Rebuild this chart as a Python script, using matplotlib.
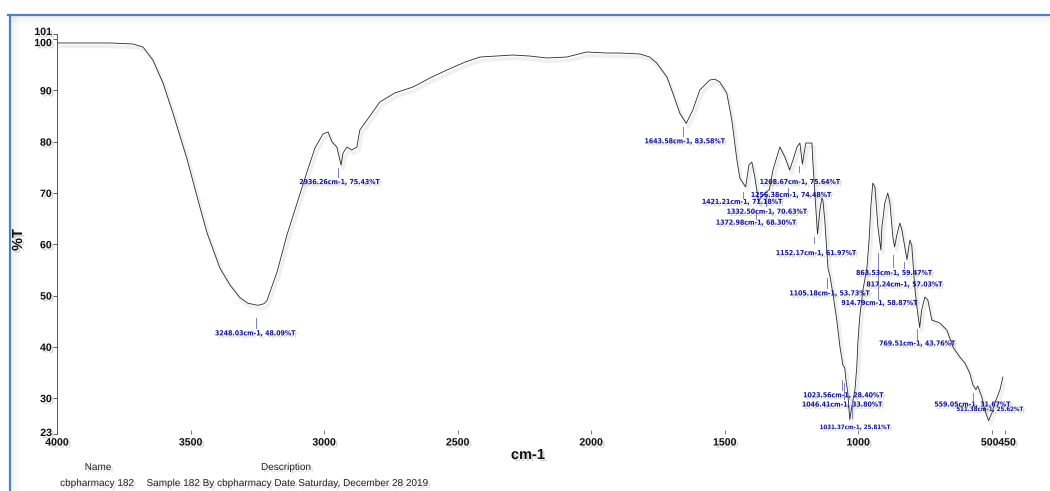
import matplotlib
matplotlib.use("Agg")
import matplotlib.pyplot as plt
import matplotlib.patheffects as pe
import matplotlib.transforms as mtransforms
from matplotlib import font_manager
from matplotlib.lines import Line2D

# ---------------------------------------------------------------------------
# FTIR spectrum of sample 182: wavenumber (cm-1) vs. transmittance (%T)
# ---------------------------------------------------------------------------
wavenumber = [
    4000, 3925, 3802, 3715, 3678, 3641, 3603, 3566, 3513, 3465, 3438, 3390,
    3352, 3315, 3285, 3248.03, 3225, 3214, 3176, 3139, 3101, 3064, 3034, 3004,
    2985, 2970, 2952, 2936.26, 2929, 2914, 2896, 2877, 2866, 2839, 2791, 2735,
    2667, 2604, 2540, 2473, 2416, 2293, 2229, 2165, 2091, 2016, 1941, 1892,
    1817, 1780, 1754, 1716, 1694, 1668, 1643.58, 1619, 1593, 1555, 1537, 1518,
    1492, 1473, 1454, 1443, 1421.21, 1409, 1398, 1387, 1372.98, 1360, 1345,
    1332.50, 1319, 1293, 1274, 1256.38, 1244, 1229, 1218, 1208.67, 1196, 1181,
    1173, 1170, 1162, 1152.17, 1143, 1136, 1132, 1125, 1117, 1113, 1105.18,
    1095, 1080, 1068, 1057, 1050, 1046.41, 1039, 1031.37, 1023.56, 1012, 1005,
    1001, 994, 982, 967, 959, 952, 945, 937, 926, 914.79, 911, 900, 889, 881,
    870, 863.53, 855, 844, 836, 817.24, 806, 799, 788, 780, 769.51, 762, 750,
    739, 724, 694, 668, 645, 619, 600, 582, 570, 559.05, 552, 537, 526, 511.38,
    499, 488, 469, 458,
]
transmittance = [
    99.25, 99.25, 99.25, 99.05, 98.46, 95.93, 91.44, 85.59, 76.60, 67.26,
    62.19, 55.37, 52.05, 49.60, 48.50, 48.09, 48.40, 49.00, 54.59, 61.80,
    68.04, 74.09, 78.77, 81.50, 81.89, 79.94, 78.96, 75.43, 77.79, 78.96,
    78.38, 78.96, 82.28, 84.23, 87.74, 89.50, 90.66, 92.40, 93.98, 95.50,
    96.51, 96.90, 96.70, 96.32, 96.51, 97.49, 97.29, 97.29, 97.10, 96.50,
    95.34, 92.61, 89.49, 85.59, 83.58, 86.18, 90.08, 92.03, 92.20, 91.64,
    89.49, 84.23, 76.43, 72.90, 71.18, 75.45, 76.04, 73.11, 68.30, 69.40,
    70.20, 70.63, 74.48, 78.96, 77.00, 74.48, 76.43, 78.96, 79.74, 75.64,
    79.74, 79.74, 79.74, 76.43, 70.00, 61.97, 66.70, 69.02, 68.63, 64.73,
    58.29, 55.37, 53.73, 50.49, 45.23, 39.96, 36.45, 35.87, 33.80, 31.19,
    25.81, 28.40, 31.58, 36.06, 40.74, 45.81, 51.08, 55.37, 60.83, 67.65,
    71.94, 71.16, 63.36, 58.87, 63.36, 68.04, 70.00, 68.04, 61.41, 59.47,
    61.80, 64.14, 62.78, 57.03, 60.83, 59.70, 51.66, 47.76, 43.76, 47.18,
    49.71, 49.13, 45.23, 44.64, 43.28, 39.96, 38.01, 36.84, 34.89, 32.55,
    31.67, 32.36, 30.21, 27.68, 25.62, 27.09, 29.04, 31.58, 34.11,
]

# Picked peaks (wavenumber, %T)
peak_wn = [3248.03, 2936.26, 1643.58, 1256.38, 1421.21, 1372.98, 1332.50,
           1208.67, 1152.17, 1105.18, 1046.41, 1023.56, 1031.37, 914.79,
           863.53, 817.24, 769.51, 559.05, 511.38]
peak_t = [48.09, 75.43, 83.58, 74.48, 71.18, 68.30, 70.63,
          75.64, 61.97, 53.73, 33.80, 28.40, 25.81, 58.87,
          59.47, 57.03, 43.76, 31.67, 25.62]

x_ticks = [4000, 3500, 3000, 2500, 2000, 1500, 1000, 500, 450]
y_ticks = [23, 30, 40, 50, 60, 70, 80, 90, 100, 101]

# Placement of each peak label relative to its peak, in pixels
# (text dx, text dy downward, tick dx, tick start, tick end, font scale)
label_place = [
    (-2, 28, -2, 13, 23, 1.0),
    (-1, 17, -3, 3, 12, 1.0),
    (-1, 18, -3, 4, 13, 1.0),
    (2, 25, -2, 18, 22, 1.0),
    (-3, 15, -3, 5, 11, 1.0),
    (-2, 21, -3, 10, 17, 1.0),
    (-2, 22, -3, 4, 16, 1.0),
    (-2, 18, -3, 2, 8, 1.0),
    (-1, 19, -3, 3, 9, 1.0),
    (0, 17, -3, 2, 12, 1.0),
    (-3, 26, -2, 4, 20, 1.0),
    (-8, -11, -10, -26, -16, 1.0),
    (5, 8, 2, -18, -2, 0.88),
    (-1, 53, -3, 3, 49, 1.0),
    (0, 26, -2, 8, 20, 1.0),
    (-2, 25, -3, 3, 9, 1.0),
    (-2, 16, -3, 1, 12, 1.0),
    (-3, 15, -3, 3, 10, 1.0),
    (1, -11, 0, 0, 0, 0.88),
]

W, H, DPI = 1050, 491, 100

# Pick a condensed face for the small annotation text when one is installed
fonts = font_manager.fontManager.ttflist
names = {f.name for f in fonts}
BASE = "Liberation Sans"
if "Liberation Sans Narrow" in names:
    COND, STRETCH, LSIZE = "Liberation Sans Narrow", "normal", 5.6
elif any(f.name == "DejaVu Sans" and f.stretch == "condensed" for f in fonts):
    COND, STRETCH, LSIZE = "DejaVu Sans", "condensed", 5.0
else:
    COND, STRETCH, LSIZE = BASE, "normal", 4.8

plt.rcParams["font.family"] = [BASE, "DejaVu Sans"]

fig = plt.figure(figsize=(W / DPI, H / DPI), dpi=DPI)
fig.patch.set_facecolor("white")

left, right = 57 / W, 1005 / W
top, bottom = 1 - 34 / H, 1 - 434 / H
ax = fig.add_axes([left, bottom, right - left, top - bottom])
ax.set_xlim(4000, 450)
ax.set_ylim(23, 101)
ax.patch.set_alpha(0)

text_shadow = [pe.SimplePatchShadow(offset=(1.6, -1.6), shadow_rgbFace="0.55", alpha=0.35),
               pe.Normal()]

# spectrum trace
ax.plot(wavenumber, transmittance, color="#2a2a2a", lw=0.6, zorder=3,
        path_effects=[pe.SimpleLineShadow(offset=(1.5, -2.5), shadow_color="0.6",
                                          alpha=0.14, linewidth=2.5), pe.Normal()])

# axes styling
for s in ("top", "right", "bottom"):
    ax.spines[s].set_visible(False)
ax.spines["left"].set_color("#555555")
ax.spines["left"].set_linewidth(0.7)

ax.set_xticks(x_ticks)
ax.set_xticklabels([str(v) for v in x_ticks])
ax.set_yticks(y_ticks)
ax.set_yticklabels([str(v) for v in y_ticks])
ax.tick_params(axis="x", direction="in", length=3, width=0.6, color="#666666",
               pad=2.5)
ax.tick_params(axis="y", direction="out", length=3, width=0.6, color="#444444",
               pad=0.8)
for lab in ax.get_xticklabels() + ax.get_yticklabels():
    lab.set_fontfamily(BASE)
    lab.set_fontsize(7.6)
    lab.set_fontweight("bold")
    lab.set_color("#111111")
    lab.set_path_effects(text_shadow)

# nudge crowded tick labels apart
nudges = {"101": (0, 3), "100": (0, -3), "23": (0, 2)}
for lab in ax.get_yticklabels():
    if lab.get_text() in nudges:
        lab.set_transform(lab.get_transform()
                          + mtransforms.Affine2D().translate(*nudges[lab.get_text()]))
x_nudges = {"500": (-2, 0), "450": (2, 0)}
for lab in ax.get_xticklabels():
    if lab.get_text() in x_nudges:
        lab.set_transform(lab.get_transform()
                          + mtransforms.Affine2D().translate(*x_nudges[lab.get_text()]))

# peak labels
to_disp = ax.transData
to_data = ax.transData.inverted()
for (wn, t), (dx, dy, tdx, ta, tb, fs) in zip(zip(peak_wn, peak_t), label_place):
    px, py = to_disp.transform((wn, t))
    if tb != ta:
        p0 = to_data.transform((px + tdx, py - ta))
        p1 = to_data.transform((px + tdx, py - tb))
        ax.plot([p0[0], p1[0]], [p0[1], p1[1]], color="#7a7ad8", lw=0.7,
                zorder=4)
    txt = f"{wn:.2f}cm-1, {t:.2f}%T"
    ax.annotate(txt, xy=(wn, t), xytext=(dx, -dy), textcoords="offset pixels",
                ha="center", va="center", fontsize=LSIZE * fs,
                fontfamily=COND, fontstretch=STRETCH, fontweight="bold",
                color="#14149a", zorder=5, path_effects=text_shadow)

# axis titles
fig.text(18 / W, 1 - 240 / H, "%T", rotation=90, ha="center", va="center",
         fontsize=10.5, fontweight="bold", color="#111111",
         path_effects=text_shadow)
fig.text(528 / W, 1 - 455 / H, "cm-1", ha="center", va="center",
         fontsize=10.5, fontweight="bold", color="#111111",
         path_effects=text_shadow)

# sample information
info_kw = dict(ha="center", va="center", fontsize=7.2, color="#222222",
               path_effects=text_shadow)
fig.text(98 / W, 1 - 467 / H, "Name", **info_kw)
fig.text(286 / W, 1 - 467 / H, "Description", **info_kw)
fig.text(97 / W, 1 - 483 / H, "cbpharmacy 182", **info_kw)
fig.text(287 / W, 1 - 483 / H,
         "Sample 182 By cbpharmacy Date Saturday, December 28 2019", **info_kw)

# window frame with soft shadow
ty = 1 - 15 / H
lx = 10 / W
for i in range(1, 10):
    a = 0.10 * (1 - i / 10)
    fig.add_artist(Line2D([lx, 1], [ty - i / H, ty - i / H], color="0.5",
                          alpha=a, lw=0.8))
    fig.add_artist(Line2D([lx + i / W, lx + i / W], [0, ty], color="0.5",
                          alpha=a, lw=0.8))
fig.add_artist(Line2D([8 / W, 1], [ty, ty], color="#4F81BD", lw=1.6))
fig.add_artist(Line2D([lx, lx], [0, ty], color="#4F81BD", lw=1.6))

fig.savefig("out.png", dpi=DPI, facecolor="white")
